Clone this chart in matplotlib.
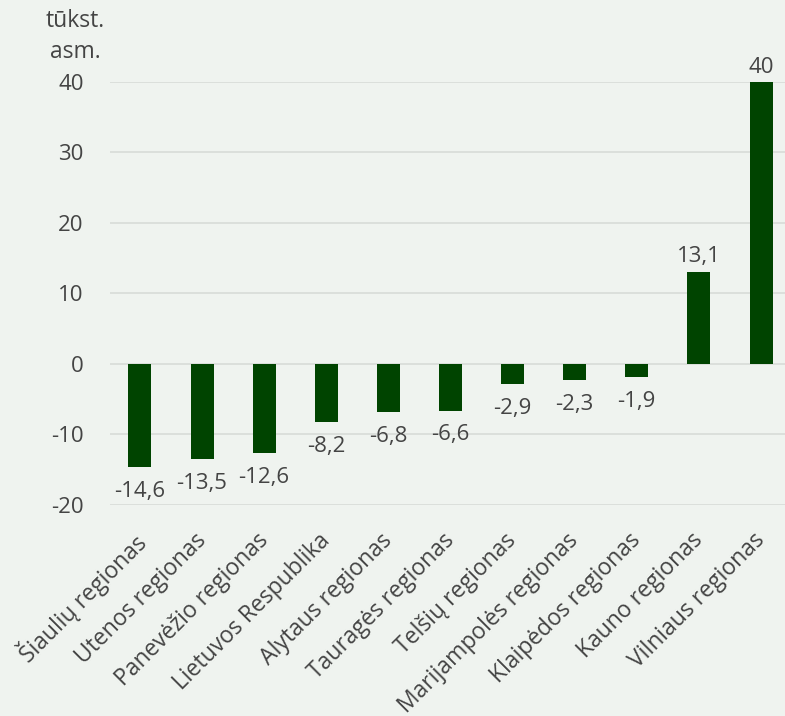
import matplotlib
matplotlib.use("Agg")
import matplotlib.pyplot as plt
import matplotlib.transforms as mtransforms

# data
regions = ["Šiaulių regionas", "Utenos regionas", "Panevėžio regionas",
           "Lietuvos Respublika", "Alytaus regionas", "Tauragės regionas",
           "Telšių regionas", "Marijampolės regionas", "Klaipėdos regionas",
           "Kauno regionas", "Vilniaus regionas"]
values = [-14.6, -13.5, -12.6, -8.2, -6.8, -6.6, -2.9, -2.3, -1.9, 13.1, 40]
yticks = [-20, -10, 0, 10, 20, 30, 40]

bg = "#eff3ef"
green = "#004400"
txt = "#444444"

plt.rcParams['font.family'] = ['Open Sans', 'DejaVu Sans']

fig = plt.figure(figsize=(7.85, 7.16), dpi=100, facecolor=bg)
ax = fig.add_axes([0.140, 0.2947, 0.860, 0.5908], facecolor=bg)

x = range(len(regions))
ax.bar(x, values, width=0.37, color=green, zorder=3)

# value labels above / below the bars, decimal comma
for i, v in zip(x, values):
    lab = ("%g" % v).replace(".", ",")
    if v >= 0:
        ax.annotate(lab, (i, v), xytext=(0, 3), textcoords="offset points",
                    ha="center", va="bottom", fontsize=16, color=txt,
                    annotation_clip=False)
    else:
        ax.annotate(lab, (i, v), xytext=(0, -10), textcoords="offset points",
                    ha="center", va="top", fontsize=16, color=txt,
                    annotation_clip=False)

ax.set_ylim(-20, 40)
ax.set_xlim(-0.483, 10.386)
ax.set_yticks(yticks)
ax.set_yticklabels([str(t) for t in yticks], fontsize=16, color=txt)
ax.grid(axis="y", color="#d8dbd8", linewidth=1.2, zorder=0)
ax.tick_params(axis="y", length=0, pad=19)
ax.tick_params(axis="x", length=0, pad=17)
ax.set_xticks(list(x))
ax.set_xticklabels(regions, rotation=45, ha="right", rotation_mode="anchor",
                   fontsize=16.5, color=txt)
shift = mtransforms.ScaledTranslation(-8 / 100, 0, fig.dpi_scale_trans)
for t in ax.get_xticklabels():
    t.set_transform(t.get_transform() + shift)
for s in ax.spines.values():
    s.set_visible(False)

fig.text(0.096, 0.988, "tūkst.\nasm.", ha="center", va="top",
         fontsize=16.5, color=txt, linespacing=1.4)

fig.savefig("out.png", dpi=100, facecolor=bg)
